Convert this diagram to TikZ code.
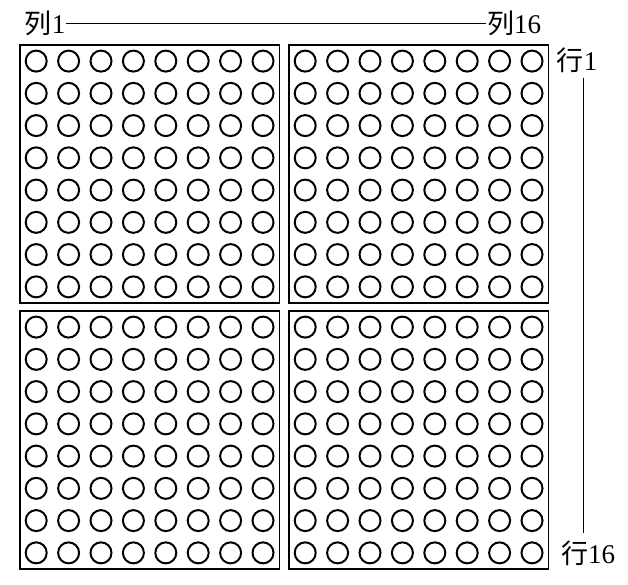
\documentclass[tikz,border=0pt]{standalone}
\usepackage{fontspec}
\setmainfont{Liberation Serif}
\newfontfamily\cjk{Noto Sans CJK SC}

\begin{document}
\begin{tikzpicture}[x=1pt, y=-1pt]
    % Define styles
    \tikzset{
        led/.style={
            circle,
            draw,
            line width=2pt,
            minimum size=21pt,
            inner sep=0pt
        },
        panel/.style={
            draw,
            line width=1.4pt
        },
        label/.style={
            font=\fontsize{27}{29}\selectfont,
            inner sep=1pt
        }
    }
    \useasboundingbox (0,0) rectangle (628,585);

    % Four 8x8 panels
    \foreach \px/\py/\pn in {20/45/a, 289/45/b, 20/311/c, 289/311/d} {
        \begin{scope}[shift={(\px,\py)}]
            \draw[panel] (0,0) rectangle (259.5,258);
            \foreach \i in {0,...,7}
                \foreach \j in {0,...,7}
                    \node[led] (\pn-\i-\j) at ({16.2+32.4*\i},{16.1+32.25*\j}) {};
        \end{scope}
    }

    % Column labels
    \node[label] (col1) at (45,23) {{\cjk 列}1};
    \node[label] (col16) at (514,23) {{\cjk 列}16};
    \draw[line width=0.9pt] (col1.east) -- (col16.west);

    % Row labels
    \node[label] (row1) at (577,60) {{\cjk 行}1};
    \node[label] (row16) at (588,553) {{\cjk 行}16};
    \coordinate (rline) at (583,0);
    \draw[line width=0.9pt] ([yshift=-4pt]row1.south -| rline) -- ([yshift=6pt]row16.north -| rline);

\end{tikzpicture}
\end{document}
